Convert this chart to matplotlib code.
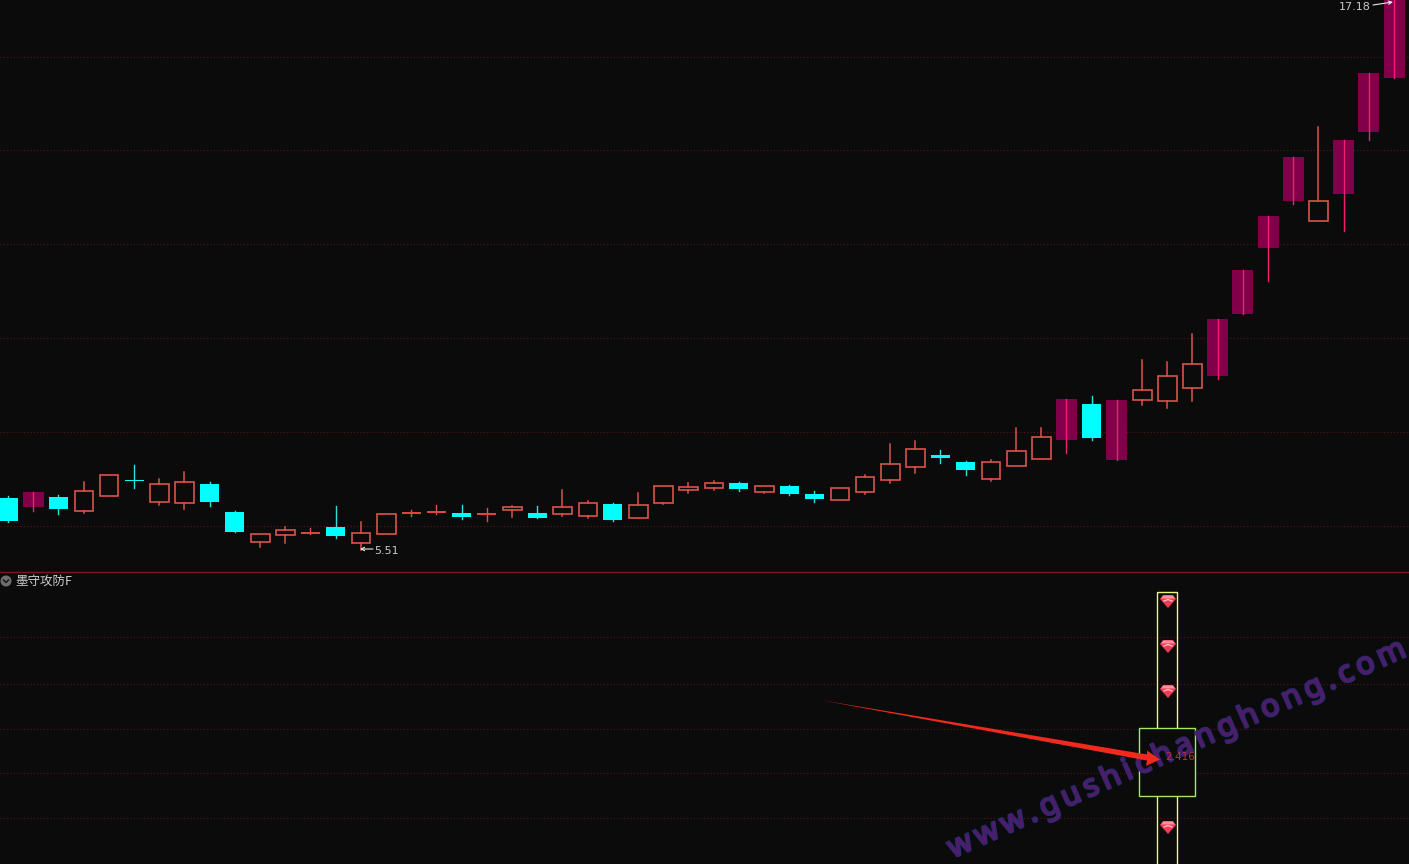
import math

import matplotlib
matplotlib.use("Agg")
import matplotlib.pyplot as plt
import matplotlib.patheffects as pe
from matplotlib.patches import Rectangle, Polygon, Circle

plt.rcParams["font.family"] = ["Noto Sans CJK SC", "DejaVu Sans"]

W, H = 1409, 864
BG = "#0b0b0b"

# candles, values are read as rows of the picture (small row = high price)
kinds = list("cmchhchhcchhrchhrrcrhchhchhhhchcchhhhcchhhmcmhhhmmmmhmmm"[:56])
opens = [521, 507, 509, 511, 496, 480, 502, 503, 502, 532, 542, 535, 534, 536, 543, 534,
         514, 513, 517, 515, 510, 518, 514, 516, 520, 518, 503, 490, 488, 489, 492, 494,
         499, 500, 492, 480, 467, 458, 470, 479, 466, 459, 440, 438, 460, 400, 401, 388,
         376, 314, 248, 201, 221, 194, 132, 78]
closes = [498, 492, 497, 491, 475, 480, 484, 482, 484, 512, 534, 530, 532, 527, 533, 514,
          512, 511, 513, 513, 507, 513, 507, 503, 504, 505, 486, 487, 483, 483, 486, 486,
          494, 488, 477, 464, 449, 455, 462, 462, 451, 437, 399, 404, 400, 390, 376, 364,
          319, 270, 216, 157, 201, 140, 73, 0]
highs = [496, 492, 495, 482, 475, 465, 479, 472, 482, 511, 534, 527, 528, 506, 522, 514,
         510, 505, 505, 508, 506, 506, 490, 501, 503, 493, 486, 483, 481, 482, 486, 485,
         491, 488, 475, 444, 441, 450, 461, 460, 428, 428, 399, 396, 400, 360, 362, 334,
         319, 270, 216, 157, 127, 140, 73, 0]
lows = [522, 511, 514, 513, 496, 488, 505, 509, 506, 532, 547, 543, 534, 538, 550, 534,
        516, 514, 519, 521, 517, 518, 516, 518, 521, 518, 504, 493, 490, 491, 493, 495,
        502, 500, 494, 483, 473, 463, 475, 481, 466, 459, 453, 440, 460, 405, 408, 401,
        379, 314, 281, 204, 221, 231, 140, 78]

grid_top = [57, 150, 244, 338, 432, 526]
grid_low = [637, 684, 729, 773, 818]
diamond_rows = [601, 646, 691, 827]

RED = "#d9534a"
CYAN = "#00ffff"
MAGENTA = "#82004a"
PINK = "#f0206e"

fig = plt.figure(figsize=(W / 100, H / 100), dpi=100, facecolor=BG)
ax = fig.add_axes([0, 0, 1, 1], facecolor=BG)
ax.set_xlim(0, W)
ax.set_ylim(H, 0)
ax.axis("off")

for y in grid_top + grid_low:
    ax.plot([0, W], [y, y], color="#5a1518", lw=0.8, ls=(0, (1, 2)), zorder=1)
ax.plot([0, W], [572, 572], color="#7e1616", lw=1, zorder=1)


def candle_x(i):
    return 8 + 25.2 * i


for i, kind in enumerate(kinds):
    x = candle_x(i)
    top, bot = min(opens[i], closes[i]), max(opens[i], closes[i])
    if kind == "m":
        ax.add_patch(Rectangle((x - 10.5, top), 21, bot - top, fc=MAGENTA, ec="none", zorder=3))
        ax.plot([x, x], [highs[i], lows[i]], color=PINK, lw=1, zorder=4)
    elif kind == "c":
        ax.plot([x, x], [highs[i], lows[i]], color="#30e0e0", lw=1, zorder=2)
        ax.add_patch(Rectangle((x - 9.5, top), 19, max(bot - top, 1), fc=CYAN, ec="none", zorder=3))
    elif kind == "r":
        ax.plot([x, x], [highs[i], lows[i]], color=RED, lw=1, zorder=2)
        ax.add_patch(Rectangle((x - 9.5, top), 19, max(bot - top, 1), fc="#e0443c", ec="none", zorder=3))
    else:
        ax.plot([x, x], [highs[i], top], color=RED, lw=1.1, zorder=2)
        ax.plot([x, x], [bot, lows[i]], color=RED, lw=1.1, zorder=2)
        ax.add_patch(Rectangle((x - 9, top), 18.5, bot - top, fc="none", ec=RED, lw=1.2, zorder=3))

# extreme price labels
ax.text(374, 550.5, "5.51", color="#c8c8c8", fontsize=8, va="center", ha="left", family="DejaVu Sans")
ax.annotate("", xy=(360, 549), xytext=(373, 549),
            arrowprops=dict(arrowstyle="->", color="#e8e8e8", lw=0.8, shrinkA=0, shrinkB=0, mutation_scale=6))
ax.text(1371, 6.5, "17.18", color="#c8c8c8", fontsize=8, va="center", ha="right", family="DejaVu Sans")
ax.annotate("", xy=(1393, 2), xytext=(1373, 5),
            arrowprops=dict(arrowstyle="->", color="#e8e8e8", lw=0.8, shrinkA=0, shrinkB=0, mutation_scale=6))

# indicator title
ax.add_patch(Circle((6, 581), 5.5, fc="#6e6e6e", ec="none", zorder=5))
ax.plot([3.5, 6, 8.5], [580, 582.5, 580], color="#111111", lw=1, zorder=6)
ax.text(15, 581, "墨守攻防F", color="#d0d0d0", fontsize=9, va="center", ha="left")

# yellow and green boxes
ax.add_patch(Rectangle((1157, 592), 20, 290, fc="none", ec="#eef676", lw=1, zorder=3))
ax.add_patch(Rectangle((1139, 728), 56, 68, fc=BG, ec="#a4e860", lw=1, zorder=4))

# diamonds
for y in diamond_rows:
    ax.add_patch(Polygon([(1160, y - 2), (1163, y - 6), (1173, y - 6), (1176, y - 2), (1168, y + 7)],
                         fc="#ee3a55", ec="none", zorder=5))
    ax.add_patch(Polygon([(1161, y - 2.5), (1163.5, y - 5.5), (1172.5, y - 5.5), (1175, y - 2.5)],
                         fc="#ff8f9c", ec="none", zorder=6))
    ax.plot([1164, 1168, 1172], [y, y - 1.5, y], color="#ffc4ca", lw=0.9, zorder=6)

# watermark, one letter at a time along a slanted line
mark = "www.gushichanghong.com"
advance = {"w": 0.78, ".": 0.27, "g": 0.62, "u": 0.62, "s": 0.48, "h": 0.62, "i": 0.26,
           "c": 0.48, "a": 0.56, "n": 0.62, "o": 0.6, "m": 0.95}
mark_size = 22
em = mark_size * 100 / 72
tracking = 5
angle = math.radians(24)
pos = 0.0
for ch in mark:
    ax.text(953 + pos * math.cos(angle), 858 - pos * math.sin(angle), ch, color="#521a68",
            fontsize=mark_size, rotation=24, ha="left", va="baseline", rotation_mode="anchor",
            family="Noto Sans", zorder=8,
            path_effects=[pe.withStroke(linewidth=1.8, foreground="#2b2a70")])
    pos += advance[ch] * em + tracking

ax.text(1180, 757.5, "2.416", color="#c03030", fontsize=7.5, va="center", ha="center", zorder=9,
        family="DejaVu Sans")

# red arrow
ax.add_patch(Polygon([(820, 700), (1147, 754.5), (1147, 750.5), (1160, 759.5), (1146, 766), (1147, 760.5)],
                     fc="#f02a1e", ec="none", zorder=10))

fig.savefig("out.png", dpi=100, facecolor=BG)
